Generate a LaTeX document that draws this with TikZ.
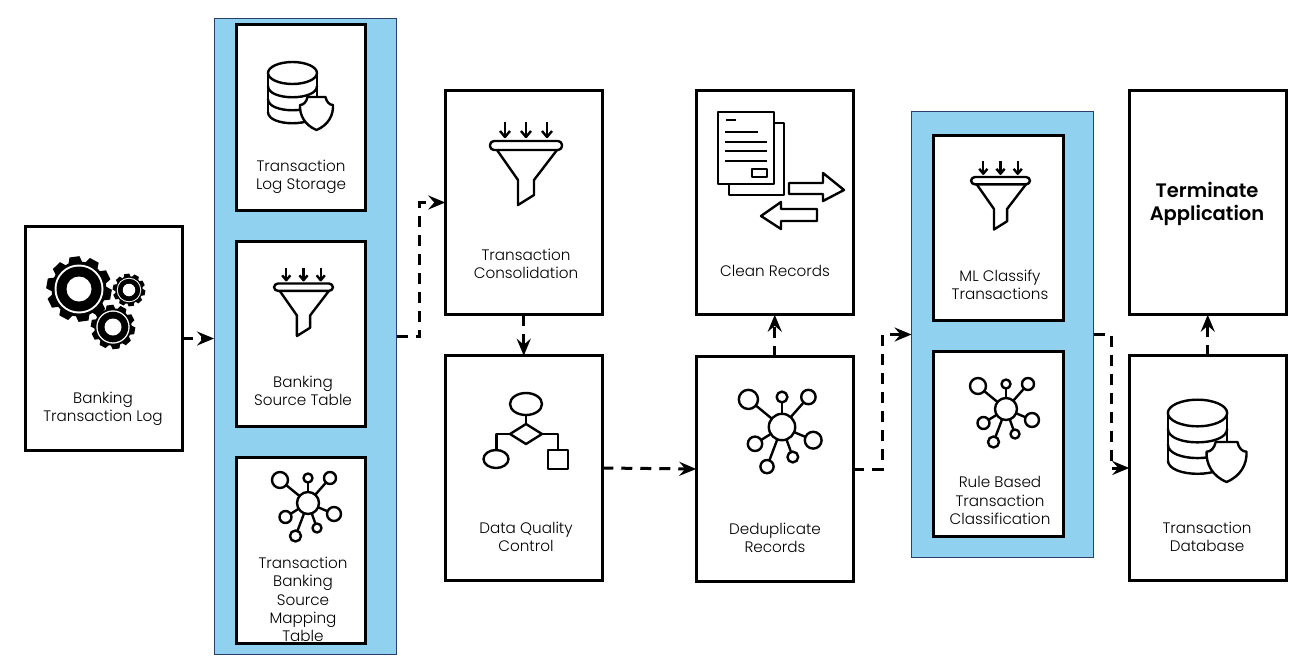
\documentclass[tikz,border=0pt]{standalone}
\usepackage{fontspec}
\setmainfont{Poppins}[UprightFont=* Light,BoldFont=* SemiBold]
\usetikzlibrary{arrows.meta}
\definecolor{panelblue}{HTML}{8FD1EE}
\definecolor{panelline}{HTML}{2B3F6B}
\tikzset{
	gearicon/.pic={
		\foreach \ang in {0,36,...,324}
			\fill[black,rotate=\ang+8] (-7,-26) -- (-5,-32.5) -- (5,-32.5) -- (7,-26) -- cycle;
		\fill[black] (0,0) circle [radius=27.5];
		\fill[white] (0,0) circle [radius=24.5];
		\fill[black] (0,0) circle [radius=22.5];
		\fill[white] (0,0) circle [radius=12.5];
	},
	dbicon/.pic={
		\draw[icon] (0,0) ellipse [x radius=24.5,y radius=11];
		\draw[icon] (-24.5,0) -- (-24.5,39) (24.5,0) -- (24.5,39);
		\foreach \yy in {13,26,39}
			\draw[icon] (-24.5,\yy) .. controls (-24.5,\yy+15) and (24.5,\yy+15) .. (24.5,\yy);
		\draw[icon,fill=white] (24,57) .. controls (12,52) and (7,42) .. (7.5,32) .. controls (11,32) and (14,29) .. (15,24) -- (33,24) .. controls (34,29) and (37,32) .. (40.5,32) .. controls (41,42) and (36,52) .. (24,57) -- cycle;
	},
	funnelicon/.pic={
		\foreach \xx in {-21,0,21} {
			\draw[icon] (\xx,-19) -- (\xx,-5);
			\draw[icon] (\xx-5,-10) -- (\xx,-4) -- (\xx+5,-10);
		}
		\draw[icon,rounded corners=4pt] (-36,0) rectangle (36,9);
		\draw[icon] (-29,9) -- (-8,39) -- (-8,64) -- (8,54) -- (8,39) -- (31,9);
	},
	networkicon/.pic={
		\foreach \nx/\ny/\nr in {-28/-23/8,0/-25/4.5,22/-25/6,26/11/7,9/25/4.5,-12.5/33/5.5,-22.5/14/6} {
			\draw[icon] (0,0) -- (\nx,\ny);
			\draw[icon,fill=white] (\nx,\ny) circle [radius=\nr];
		}
		\draw[icon,fill=white] (0,0) circle [radius=11];
	}
}
\begin{document}
\begin{tikzpicture}[x=1pt,y=-1pt,
	panel/.style={draw=panelline,line width=0.8pt,fill=panelblue,inner sep=0pt,outer sep=0pt},
	box/.style={draw=black,line width=3pt,fill=white,inner sep=0pt,outer sep=0pt},
	bigbox/.style={box,minimum width=157pt,minimum height=224.5pt},
	smallbox/.style={box,minimum width=129.5pt,minimum height=185.5pt},
	boxtext/.style={font=\fontsize{15.2pt}{18.3pt}\selectfont,align=center,inner sep=0pt},
	icon/.style={draw=black,line width=2.4pt,line join=round},
	flowline/.style={draw=black,line width=3pt,dash pattern=on 11pt off 8pt,-{Stealth[length=17pt,width=14pt,inset=6pt]}}]
	\useasboundingbox (0,0) rectangle (1297,664);

	\node[panel,minimum width=182.5pt,minimum height=636pt] (leftpanel) at (305.25,336.5) {};
	\node[panel,minimum width=182pt,minimum height=446pt] (rightpanel) at (1002.5,334.5) {};

	\node[bigbox] (logbox) at (103.5,338.5) {};
	\node[smallbox] (storagebox) at (300.75,117.5) {};
	\node[smallbox] (sourcebox) at (300.75,334) {};
	\node[smallbox] (mappingbox) at (300.75,550.5) {};
	\node[bigbox] (consbox) at (523.75,202.5) {};
	\node[bigbox] (qualitybox) at (523.75,468) {};
	\node[bigbox] (cleanbox) at (774.75,202.5) {};
	\node[bigbox] (dedupbox) at (774.75,469) {};
	\node[smallbox] (mlbox) at (998.25,228) {};
	\node[smallbox] (rulebox) at (998.25,444) {};
	\node[bigbox] (termbox) at (1207.75,202.5) {};
	\node[bigbox] (dbbox) at (1207.75,468) {};

	\node[boxtext] (logtext) at (103,408.5) {Banking\\Transaction Log};
	\node[boxtext] (storagetext) at (301,176.5) {Transaction\\Log Storage};
	\node[boxtext] (sourcetext) at (303,390.5) {Banking\\Source Table};
	\node[boxtext] (mappingtext) at (303,599.5) {Transaction\\Banking\\Source\\Mapping\\Table};
	\node[boxtext] (constext) at (526,263.5) {Transaction\\Consolidation};
	\node[boxtext] (qualitytext) at (526,536.5) {Data Quality\\Control};
	\node[boxtext] (cleantext) at (775,271) {Clean Records};
	\node[boxtext] (deduptext) at (775,537.5) {Deduplicate\\Records};
	\node[boxtext] (mltext) at (1000,284.5) {ML Classify\\Transactions};
	\node[boxtext] (ruletext) at (1000,500.5) {Rule Based\\Transaction\\Classification};
	\node[boxtext,font=\fontsize{19.5pt}{22.5pt}\selectfont\bfseries] (termtext) at (1207,204) {Terminate\\Application};
	\node[boxtext] (dbtext) at (1207,536.5) {Transaction\\Database};

	\pic at (79,289) {gearicon};
	\pic[scale=0.5] at (129,290) {gearicon};
	\pic[scale=0.68] at (113,327) {gearicon};
	\pic at (292.5,73) {dbicon};
	\pic[scale=1.21] at (1197.5,413) {dbicon};
	\pic[scale=0.82] at (303.5,283.5) {funnelicon};
	\pic at (526,141) {funnelicon};
	\pic[scale=0.82] at (1000.5,177) {funnelicon};
	\pic at (308,503) {networkicon};
	\pic at (1006,409) {networkicon};
	\pic[scale=1.2] at (782,427) {networkicon};

	% flow chart icon
	\draw[icon] (526,404) ellipse [x radius=16,y radius=11];
	\draw[icon] (526,415) -- (526,424);
	\draw[icon] (526,424) -- (542,434) -- (526,444) -- (510,434) -- cycle;
	\draw[icon] (510,434) -- (496.5,434) -- (496.5,450);
	\draw[icon] (542,434) -- (558,434) -- (558,450);
	\draw[icon] (496,459) ellipse [x radius=12.5,y radius=9];
	\draw[icon] (548,450) rectangle (568,469);

	% document icon
	\draw[icon] (718,112) rectangle (774,184);
	\draw[icon] (774,123) -- (784,123) -- (784,195) -- (729,195) -- (729,184);
	\draw[icon,line width=2.8pt] (726,120) -- (736,120);
	\draw[icon] (725,132) -- (758,132);
	\foreach \yy in {142,151,161}
		\draw[icon] (725,\yy) -- (767,\yy);
	\draw[icon] (752,169) rectangle (767,177);
	\draw[icon] (789,183) -- (823,183) -- (823,173) -- (844,190) -- (823,201) -- (823,194) -- (789,194) -- cycle;
	\draw[icon] (817,209) -- (781,209) -- (781,202) -- (761,216) -- (781,229) -- (781,221) -- (817,221) -- cycle;

	\draw[flowline] (logbox.east) -- (leftpanel.west |- logbox.east);
	\draw[flowline] (leftpanel.east) -- ++(23,0) |- (consbox.west);
	\draw[flowline] (consbox.south) -- (qualitybox.north);
	\draw[flowline] (qualitybox.east) -- (dedupbox.west);
	\draw[flowline] (dedupbox.north) -- (cleanbox.south);
	\draw[flowline] (dedupbox.east) -- ++(29,0) |- (rightpanel.west);
	\draw[flowline] (rightpanel.east) -- ++(18,0) |- (dbbox.west);
	\draw[flowline] (dbbox.north) -- (termbox.south);
\end{tikzpicture}
\end{document}
